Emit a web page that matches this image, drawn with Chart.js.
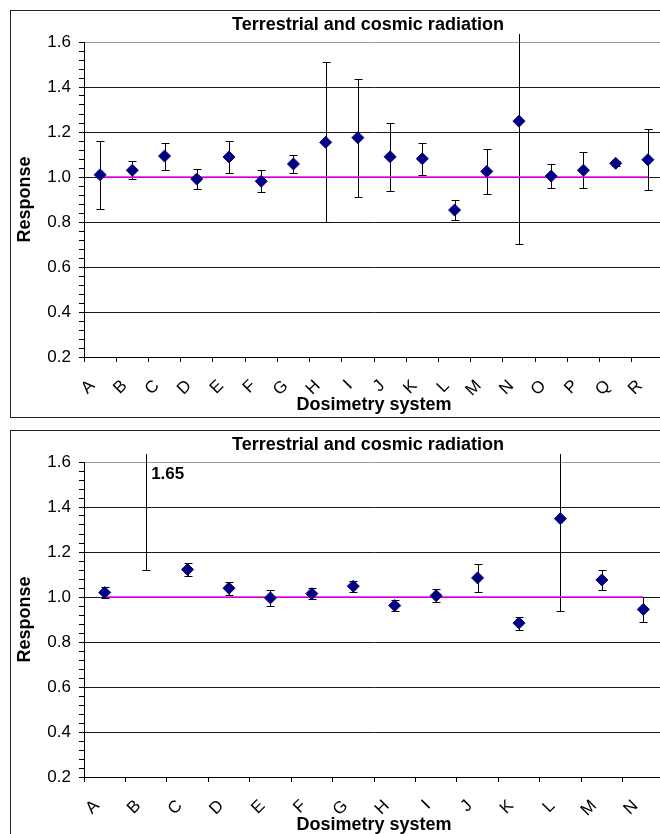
<!DOCTYPE html>
<html>
<head>
<meta charset="utf-8">
<script src="https://cdn.jsdelivr.net/npm/chart.js@4.4.1/dist/chart.umd.min.js"></script>
<style>
  html, body { margin: 0; padding: 0; background: #fff; overflow: hidden; width: 660px; height: 834px; }
  .panel { position: absolute; left: 10px; width: 714px; height: 406px; border: 1px solid #222; background: #fff; }
  .panel canvas { display: block; }
</style>
</head>
<body>
<div class="panel" style="top:10px"><canvas id="chart-top" width="714" height="406"></canvas></div>
<div class="panel" style="top:430px"><canvas id="chart-bottom" width="714" height="406"></canvas></div>

<script>
const topCategories = ["A", "B", "C", "D", "E", "F", "G", "H", "I", "J", "K", "L", "M", "N", "O", "P", "Q", "R"];
const topResponse = [1.01, 1.03, 1.093, 0.991, 1.089, 0.981, 1.058, 1.154, 1.175, 1.09, 1.081, 0.853, 1.025, 1.248, 1.004, 1.03, 1.061, 1.077];
const topUncertainty = [0.15, 0.04, 0.06, 0.044, 0.072, 0.049, 0.04, 0.355, 0.262, 0.15, 0.072, 0.046, 0.10, 0.546, 0.052, 0.08, 0.01, 0.135];
const topReference = [1, 1, 1, 1, 1, 1, 1, 1, 1, 1, 1, 1, 1, 1, 1, 1, 1, 1];

const bottomCategories = ["A", "B", "C", "D", "E", "F", "G", "H", "I", "J", "K", "L", "M", "N"];
const bottomResponse = [1.02, 1.65, 1.122, 1.039, 0.996, 1.015, 1.048, 0.962, 1.006, 1.085, 0.884, 1.348, 1.076, 0.945];
const bottomUncertainty = [0.026, 0.528, 0.029, 0.029, 0.035, 0.025, 0.025, 0.025, 0.028, 0.063, 0.029, 0.412, 0.046, 0.055];
const bottomReference = [1, 1, 1, 1, 1, 1, 1, 1, 1, 1, 1, 1, 1, 1];

const chartTitle = "Terrestrial and cosmic radiation";
const xAxisTitle = "Dosimetry system";
const yAxisTitle = "Response";
const yMin = 0.2;
const yMax = 1.6;

Chart.defaults.font.family = "'Liberation Sans', Arial, sans-serif";
Chart.defaults.color = "#000";

// Barres d'erreur verticales (dessinées sous les marqueurs)
const errorBarsPlugin = {
  id: "errorBars",
  beforeDatasetsDraw(chart, args, opts) {
    const { ctx, chartArea } = chart;
    const yScale = chart.scales.y;
    const meta = chart.getDatasetMeta(0);
    const values = chart.data.datasets[0].data;
    ctx.save();
    ctx.beginPath();
    ctx.rect(chartArea.left, chartArea.top - 8, chartArea.right - chartArea.left, chartArea.bottom - chartArea.top + 8);
    ctx.clip();
    ctx.strokeStyle = "#000";
    ctx.lineWidth = 1;
    opts.errors.forEach((err, i) => {
      const x = Math.round(meta.data[i].x) + 0.5;
      const yHigh = Math.round(yScale.getPixelForValue(values[i] + err)) + 0.5;
      const yLow = Math.round(yScale.getPixelForValue(values[i] - err)) + 0.5;
      ctx.beginPath();
      ctx.moveTo(x, yHigh);
      ctx.lineTo(x, yLow);
      ctx.moveTo(x - 4, yHigh);
      ctx.lineTo(x + 4, yHigh);
      ctx.moveTo(x - 4, yLow);
      ctx.lineTo(x + 4, yLow);
      ctx.stroke();
    });
    ctx.restore();
  },
  afterDatasetsDraw(chart) {
    // Valeur affichée pour les points hors échelle
    const { ctx, chartArea } = chart;
    const meta = chart.getDatasetMeta(0);
    const values = chart.data.datasets[0].data;
    ctx.save();
    ctx.font = "bold 17px 'Liberation Sans', Arial, sans-serif";
    ctx.fillStyle = "#000";
    ctx.textAlign = "left";
    ctx.textBaseline = "middle";
    values.forEach((v, i) => {
      if (v > yMax) {
        ctx.fillText(v.toFixed(2), meta.data[i].x + 5, chartArea.top + 12);
      }
    });
    ctx.restore();
  }
};

function isMajor(value) {
  return Math.abs(value * 5 - Math.round(value * 5)) < 1e-6;
}

function createResponseChart(canvasId, categories, response, uncertainty, reference) {
  const canvas = document.getElementById(canvasId);
  return new Chart(canvas, {
    type: "line",
    data: {
      labels: categories,
      datasets: [
        {
          label: "Response",
          data: response,
          yAxisID: "y",
          showLine: false,
          pointStyle: "rectRot",
          pointRadius: 6,
          pointBackgroundColor: "#000080",
          pointBorderColor: "#000080",
          pointBorderWidth: 1,
          clip: 0,
          order: 0
        },
        {
          label: "Reference",
          data: reference,
          yAxisID: "y",
          borderColor: "#ff00ff",
          borderWidth: 1.5,
          pointRadius: 0,
          order: 1
        }
      ]
    },
    options: {
      responsive: false,
      animation: false,
      events: [],
      layout: { padding: 0 },
      scales: {
        x: {
          type: "category",
          offset: true,
          afterFit(scale) { scale.height = 60; },
          grid: { offset: true, drawOnChartArea: false, drawTicks: true, tickLength: 5, color: "#000" },
          border: { color: "#000" },
          ticks: {
            font: { size: 17 },
            minRotation: 45,
            maxRotation: 45,
            autoSkip: false,
            padding: 14,
            labelOffset: -8
          },
          title: {
            display: true,
            text: xAxisTitle,
            font: { size: 18, weight: "bold" },
            padding: { top: 0, bottom: 1 }
          }
        },
        y: {
          type: "linear",
          position: "left",
          min: yMin,
          max: yMax,
          afterFit(scale) { scale.width = 73; },
          grid: {
            drawTicks: true,
            tickLength: 5,
            tickColor: "#000",
            color(ctx) {
              const v = ctx.tick ? ctx.tick.value : 0;
              if (!isMajor(v)) return "rgba(0,0,0,0)";
              return Math.abs(v - yMax) < 1e-6 ? "#9a9a9a" : "#1a1a1a";
            }
          },
          border: { color: "#000" },
          ticks: {
            stepSize: 0.04,
            autoSkip: false,
            padding: 8,
            font: { size: 17 },
            callback(value) {
              return isMajor(value) ? value.toFixed(1) : "";
            }
          },
          title: {
            display: true,
            text: yAxisTitle,
            font: { size: 18, weight: "bold" },
            padding: { top: 3, bottom: 0 }
          }
        },
        yRight: {
          type: "linear",
          position: "right",
          display: true,
          afterFit(scale) { scale.width = 61; },
          grid: { display: false },
          border: { display: false },
          ticks: { display: false }
        }
      },
      plugins: {
        legend: { display: false },
        tooltip: { enabled: false },
        title: {
          display: true,
          text: chartTitle,
          font: { size: 18, weight: "bold" },
          color: "#000",
          padding: { top: 3, bottom: 6.4 }
        },
        errorBars: { errors: uncertainty }
      }
    },
    plugins: [errorBarsPlugin]
  });
}

createResponseChart("chart-top", topCategories, topResponse, topUncertainty, topReference);
createResponseChart("chart-bottom", bottomCategories, bottomResponse, bottomUncertainty, bottomReference);
</script>
</body>
</html>
